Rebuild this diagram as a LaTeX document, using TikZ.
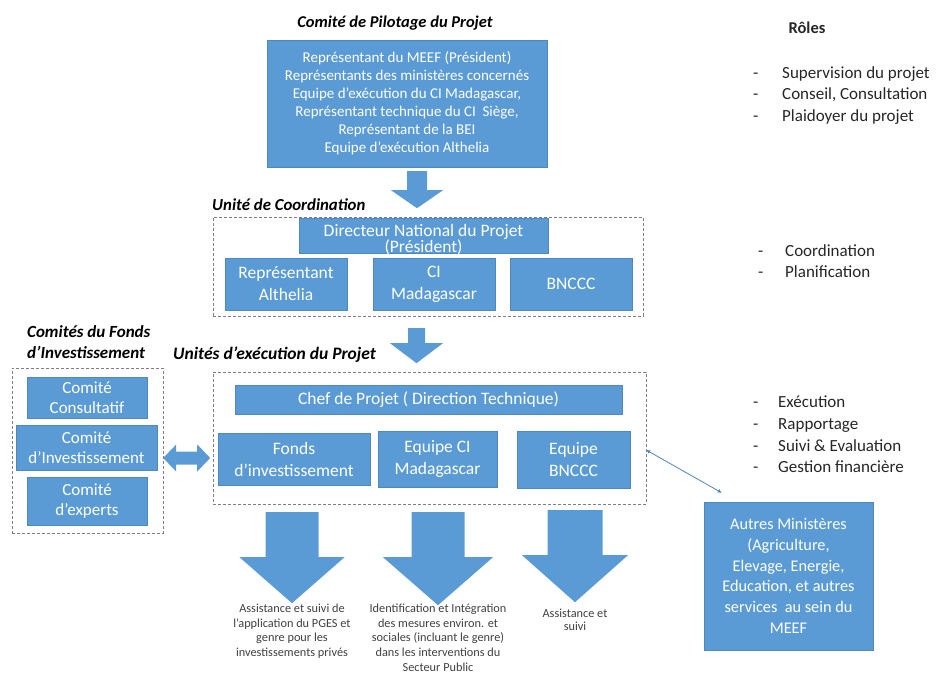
\documentclass[tikz,border=0pt]{standalone}
\usepackage{fontspec}
\setmainfont{Carlito}
\usetikzlibrary{arrows.meta,positioning}
\definecolor{boxblue}{HTML}{5B9BD5}
\definecolor{boxedge}{HTML}{4F88BD}
\definecolor{dashgrey}{HTML}{7F7F7F}
\tikzset{
	every node/.style={font=\fontsize{17}{20}\selectfont},
	bluebox/.style={rectangle, fill=boxblue, draw=boxedge, thin, text=white, align=center, inner sep=0pt},
	groupbox/.style={rectangle, draw=dashgrey, thin, dash pattern=on 3pt off 2pt},
	grouptitle/.style={font=\fontsize{17}{21}\selectfont\bfseries\itshape, align=left, inner sep=0pt},
	rolelist/.style={font=\fontsize{17}{21.6}\selectfont, text=black!85, align=left, anchor=west, inner sep=0pt},
	outcome/.style={font=\fontsize{12.3}{14.6}\selectfont, text=black!75, align=center, inner sep=0pt, anchor=north},
	pics/downarrow/.style n args={4}{code={
		\fill[boxblue] (-#1,0) -- (#1,0) -- (#1,#3) -- (#2,#3) -- (0,#4) -- (-#2,#3) -- (-#1,#3) -- cycle;}},
	pics/sidearrow/.style={code={
		\fill[boxblue] (0,0) -- (13,-13.5) -- (13,-6.5) -- (34,-6.5) -- (34,-13.5) -- (47,0)
			-- (34,13.5) -- (34,6.5) -- (13,6.5) -- (13,13.5) -- cycle;}}
}
\newcommand{\roleitem}[2][29pt]{\makebox[#1][l]{-}#2}

\begin{document}
\begin{tikzpicture}[x=1pt, y=-1pt]
	\useasboundingbox (0,0) rectangle (936,674);

	% Pilotage
	\node[grouptitle, font=\fontsize{16.5}{20}\selectfont\bfseries\itshape] (tpilot) at (395,23) {Comité de Pilotage du Projet};
	\node[bluebox, minimum width=280pt, minimum height=127pt, font=\fontsize{15}{18}\selectfont] (pilot) at (407,103.5)
		{Représentant du MEEF (Président)\\Représentants des ministères concernés\\Equipe d'exécution du CI Madagascar,\\Représentant technique du CI~ Siège,\\Représentant de la BEI\\Equipe d'exécution Althelia};

	% Coordination
	\node[grouptitle, anchor=west, font=\fontsize{16.8}{20}\selectfont\bfseries\itshape] (tcoord) at (212,205) {Unité de Coordination};
	\node[groupbox, minimum width=430pt, minimum height=99pt] (coord) at (428,266.5) {};
	\node[bluebox, minimum width=249pt, minimum height=35pt] (director) at (423.5,235.5) {};
	\node[align=center, text=white, inner sep=0pt, font=\fontsize{17.5}{16}\selectfont] (directortext) at ([yshift=-4.5pt]director.center)
		{Directeur National du Projet\\(Président)};
	\node[bluebox, minimum width=122pt, minimum height=52pt, font=\fontsize{17.5}{22}\selectfont] (althelia) at (286,284) {Représentant\\Althelia};
	\node[bluebox, minimum width=122pt, minimum height=52pt, font=\fontsize{17.5}{22}\selectfont] (cimada) at (434,284) {CI\\Madagascar};
	\node[bluebox, minimum width=122pt, minimum height=52pt, font=\fontsize{17.5}{22}\selectfont] (bnccc) at (571,284) {BNCCC};

	% Execution
	\node[grouptitle, anchor=west, font=\fontsize{17.5}{20}\selectfont\bfseries\itshape] (texec) at (173,355) {Unités d'exécution du Projet};
	\node[groupbox, minimum width=433pt, minimum height=132pt] (exec) at (429.5,438) {};
	\node[bluebox, minimum width=387pt, minimum height=29pt, font=\fontsize{17.5}{20}\selectfont] (chef) at (428.5,399.5) {Chef de Projet ( Direction Technique)};
	\node[bluebox, minimum width=152pt, minimum height=52pt, font=\fontsize{17.5}{22}\selectfont] (fonds) at (294,459) {Fonds\\d'investissement};
	\node[bluebox, minimum width=119pt, minimum height=56pt, font=\fontsize{17.5}{22}\selectfont] (equipeci) at (437.5,459) {Equipe CI\\Madagascar};
	\node[bluebox, minimum width=113pt, minimum height=57pt, font=\fontsize{17.5}{22}\selectfont] (equipebn) at (573.5,459.5) {Equipe\\BNCCC};

	% Comites du fonds
	\node[grouptitle, anchor=west] (tfonds) at (27,342.5) {Comités du Fonds\\d'Investissement};
	\node[groupbox, minimum width=151pt, minimum height=165pt] (comites) at (87.5,450.5) {};
	\node[bluebox, minimum width=120pt, minimum height=41pt] (consult) at (87,397.5) {Comité\\Consultatif};
	\node[bluebox, minimum width=141pt, minimum height=45pt] (invest) at (86.5,447.5) {Comité\\d'Investissement};
	\node[bluebox, minimum width=120pt, minimum height=48pt] (experts) at (87,501) {Comité\\d'experts};

	% Autres ministeres
	\node[bluebox, minimum width=169pt, minimum height=148pt, font=\fontsize{16.3}{20.7}\selectfont] (autres) at (788.5,576)
		{Autres Ministères\\(Agriculture,\\Elevage, Energie,\\Education, et autres\\services~ au sein du\\MEEF};

	% Roles
	\node[font=\fontsize{16.5}{18}\selectfont\bfseries, text=black!85] (troles) at (807,28) {Rôles};
	\node[rolelist] (roles1) at (753,95.5) {\roleitem{Supervision du projet}\\\roleitem{Conseil, Consultation}\\\roleitem{Plaidoyer du projet}};
	\node[rolelist] (roles2) at (758,261) {\roleitem[27pt]{Coordination}\\\roleitem[27pt]{Planification}};
	\node[rolelist] (roles3) at (753,434.5) {\roleitem[25pt]{Exécution}\\\roleitem[25pt]{Rapportage}\\\roleitem[25pt]{Suivi \& Evaluation}\\\roleitem[25pt]{Gestion financière}};

	% Block arrows
	\pic at ([xshift=10pt,yshift=-4pt]pilot.south) {downarrow={10}{26}{19}{37}};
	\pic at ([xshift=-11.5pt,yshift=-12pt]coord.south) {downarrow={8.5}{26.5}{15}{35}};
	\pic at ([yshift=-7.5pt]comites.east) {sidearrow};
	\pic at ([xshift=-2pt,yshift=-27pt]fonds.south) {downarrow={26.5}{52.5}{45}{91}};
	\pic at ([xshift=0.5pt,yshift=-25pt]equipeci.south) {downarrow={26.5}{55}{45}{93}};
	\pic at ([xshift=1.5pt,yshift=-22pt]equipebn.south) {downarrow={27.5}{53}{45}{92}};

	% Link to other ministries
	\draw[boxblue!85!black, line width=0.8pt, {Latex[length=4pt,width=4pt]}-{Latex[length=4pt,width=4pt]}]
		([yshift=-12pt]exec.east) -- ([xshift=18pt,yshift=9pt]autres.north west);

	% Outcomes
	\node[outcome] (out1) at (292,604) {Assistance et suivi de\\l'application du PGES et\\genre pour les\\investissements privés};
	\node[outcome] (out2) at (438,604) {Identification et Intégration\\des mesures environ. et\\sociales (incluant le genre)\\dans les interventions du\\Secteur Public};
	\node[outcome, font=\fontsize{12.3}{12.5}\selectfont] (out3) at (575,609) {Assistance et\\suivi};
\end{tikzpicture}
\end{document}
